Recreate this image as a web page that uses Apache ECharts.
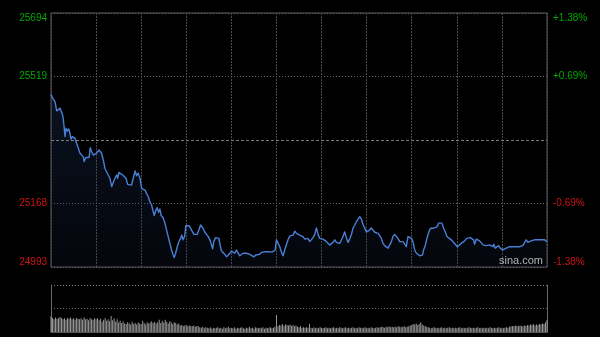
<!DOCTYPE html>
<html><head><meta charset="utf-8">
<script src="https://cdn.jsdelivr.net/npm/echarts@6/dist/echarts.min.js"></script>
<style>html,body{margin:0;padding:0;background:#000}#c{width:600px;height:337px}</style>
</head><body><div id="c"></div>
<script>
const prevClose = 25343.5;
const yMin = 24993, yMax = 25694;
const leftLabels = ['24993', '25168', '', '25519', '25694'];
const rightLabels = ['-1.38%', '-0.69%', '', '+0.69%', '+1.38%'];

// minutes since the open (0..330) and index level
const times = [
0,1.1,2.0,2.7,3.8,4.9,6.0,6.7,7.8,8.6,9.3,10.0,10.8,11.8,12.6,13.3,14.2,14.8,16.0,17.1,18.2,19.3,20.4,21.5,22.1,23.1,24.1,25.3,26.1,27.1,28.1,29.3,30.4,31.0,31.9,32.6,33.7,34.8,35.9,37.0,38.1,39.2,40.4,41.4,42.5,43.7,44.3,45.2,46.3,47.7,48.5,49.9,51.0,52.1,53.6,54.7,56.0,57.0,58.0,59.2,60.3,61.4,62.5,63.6,64.7,65.8,
66.9,68.0,68.7,69.6,70.7,71.6,72.5,73.3,74.6,75.8,76.9,78.0,79.1,80.2,81.3,82.0,82.9,84.0,85.1,86.2,87.1,87.9,88.9,89.7,90.6,91.9,92.9,93.9,95.1,96.2,97.2,98.4,99.5,100.4,101.2,102.4,103.5,104.6,105.7,106.8,107.5,108.3,109.5,110.5,111.7,112.3,113.2,114.1,115.7,116.8,117.9,119.0,120.1,121.2,122.3,123.4,124.5,125.6,126.8,127.8,129.0,130.1,131.1,132.3,
133.4,134.9,136.3,137.4,138.5,139.4,140.5,141.6,142.7,143.8,144.9,146.0,147.1,148.2,149.1,150.0,151.1,152.2,153.3,154.4,155.5,156.7,157.7,158.9,160.0,161.1,162.2,163.3,164.4,165.5,166.6,167.7,168.8,170.0,171.0,172.2,173.3,174.3,175.5,176.6,177.7,178.8,179.9,181.0,182.1,183.3,184.3,185.5,186.6,187.6,188.8,189.9,191.0,192.1,193.2,194.3,195.4,196.5,197.6,198.7,
199.9,200.9,202.1,203.2,204.3,205.4,206.5,207.6,208.7,209.8,210.9,212.0,213.1,214.2,215.4,216.5,217.6,218.7,219.8,220.9,222.0,223.1,224.2,225.3,226.5,227.5,228.7,229.8,230.8,232.0,233.1,234.2,235.3,236.4,237.5,238.6,239.8,240.8,242.0,243.1,244.2,245.3,246.4,247.1,247.9,249.1,250.1,251.3,252.4,253.5,254.6,255.7,256.8,257.9,259.0,260.1,261.2,262.4,263.4,264.6,
266.3,267.4,268.5,269.7,270.3,271.2,272.3,273.4,274.5,275.7,276.7,277.9,279.0,280.0,281.2,281.8,283.0,284.0,285.2,286.3,287.4,288.5,289.6,290.7,291.8,292.9,294.0,294.6,295.6,296.7,297.8,298.9,300.0,300.6,301.8,302.9,304.0,305.1,306.2,307.3,308.4,309.5,310.6,311.7,312.8,313.9,315.1,316.2,317.3,318.4,319.5,320.6,321.7,322.8,323.9,325.0,326.2,327.2,328.4,329.5,330.0
];
const prices = [
25470,25459,25460,25449,25424,25422,25431,25435,25412,25385,25353,25376,25368,25374,25362,25346,25353,25357,25348,25334,25321,25307,25302,25297,25284,25295,25291,25295,25322,25311,25302,25297,25307,25302,25316,25316,25307,25288,25265,25256,25252,25238,25215,25219,25238,25247,25238,25254,25252,25247,25252,25238,25221,25224,25219,25238,25258,25245,25252,25238,25210,25215,25205,25201,25187,25173,
25164,25146,25135,25148,25157,25144,25153,25135,25129,25114,25095,25077,25058,25040,25026,25019,25031,25049,25063,25072,25081,25068,25077,25107,25104,25107,25104,25092,25083,25079,25083,25095,25109,25114,25100,25089,25083,25077,25068,25054,25043,25063,25074,25074,25072,25058,25040,25034,25028,25021,25021,25031,25037,25034,25031,25040,25031,25024,25028,25031,25028,25031,25026,25028,
25028,25021,25026,25023,25028,25026,25034,25035,25035,25031,25035,25031,25034,25034,25040,25068,25063,25049,25034,25024,25040,25056,25068,25079,25083,25081,25092,25086,25086,25081,25086,25077,25070,25068,25072,25063,25068,25074,25083,25101,25083,25072,25072,25070,25068,25063,25058,25054,25049,25061,25068,25061,25056,25058,25063,25077,25090,25074,25061,25070,
25083,25100,25109,25118,25125,25132,25125,25111,25107,25090,25086,25095,25101,25095,25089,25086,25086,25086,25072,25058,25052,25054,25045,25043,25063,25077,25083,25083,25072,25063,25058,25063,25056,25049,25077,25077,25072,25063,25040,25031,25028,25024,25021,25026,25040,25054,25072,25089,25100,25098,25100,25095,25104,25114,25116,25114,25100,25089,25077,25072,
25068,25063,25058,25063,25049,25054,25056,25061,25063,25065,25072,25068,25074,25077,25068,25056,25070,25068,25065,25063,25054,25049,25052,25049,25054,25056,25049,25056,25045,25049,25052,25045,25045,25040,25043,25045,25046,25049,25049,25049,25052,25049,25049,25049,25049,25052,25056,25068,25061,25063,25065,25061,25068,25065,25068,25070,25068,25070,25068,25063,25063
];

// per-minute volume (relative units, panel top = 100)
const volumes = [
34,30,27,31,28,29,32,30,27,29,
26,30,28,31,27,29,26,30,28,27,
29,26,31,27,28,25,30,27,26,29,
27,30,25,28,22,26,30,24,27,23,
34,25,29,22,27,20,24,19,23,18,
17,21,18,16,22,17,19,16,20,18,
17,24,19,16,21,18,20,23,19,22,
18,21,26,19,24,20,26,22,18,23,
20,17,21,19,16,18,14,15,13,14,
15,12,14,13,12,14,11,13,12,10,
9,11,8,10,9,8,10,7,9,8,
9,10,8,9,7,10,8,9,11,8,
9,8,10,7,9,8,9,10,8,7,
9,8,11,8,9,7,10,9,8,9,
8,10,7,9,8,9,10,8,9,11,
36,12,15,14,17,13,16,15,14,16,
13,15,12,14,11,10,12,9,10,9,
10,9,17,9,8,10,8,9,8,10,
9,8,9,10,8,9,8,9,10,8,
9,8,10,9,8,9,10,8,9,8,
9,10,8,9,8,10,9,8,9,10,
8,9,8,10,9,8,9,10,9,10,
11,10,9,11,10,12,10,11,10,11,
10,12,11,10,11,12,10,11,12,14,
15,17,16,18,15,17,21,16,14,12,
11,10,9,8,9,10,8,9,8,9,
10,8,9,8,9,10,8,9,8,9,
8,9,10,8,9,8,9,8,10,9,
8,9,8,9,10,8,9,8,9,8,
9,8,10,9,8,9,8,9,10,8,
9,8,9,10,9,11,12,13,12,14,
13,12,14,13,12,14,13,15,14,16,
15,17,14,16,15,17,16,18,17,21,
26
];

const GREEN = '#00a800', RED = '#d01212';
const step = (yMax - yMin) / 4;
const pct = (yMax - prevClose) / prevClose * 100;

const lineData = times.map((t, i) => [t, prices[i]]);
const volData = volumes.map((v, i) => [i, v]);

function lblIndex(v, lo, st) { return Math.round((v - lo) / st); }

const chart = echarts.init(document.getElementById('c'), null, {renderer: 'canvas'});
chart.setOption({
  backgroundColor: '#000',
  animation: false,
  grid: [
    {left: 51, right: 53, top: 13, height: 254, show: true, borderColor: '#5c5c5c', borderWidth: 1, outerBoundsMode: 'none'},
    {left: 51, right: 53, top: 285, height: 47, outerBoundsMode: 'none'}
  ],
  xAxis: [
    {gridIndex: 0, type: 'value', min: 0, max: 330, interval: 30,
     axisLine: {show: false}, axisTick: {show: false}, axisLabel: {show: false},
     splitLine: {show: true, lineStyle: {color: '#4a4a4a', type: [2, 1], width: 1}}},
    {gridIndex: 1, type: 'value', min: 0, max: 330,
     axisLine: {show: true, onZero: false, lineStyle: {color: '#555'}}, axisTick: {show: false}, axisLabel: {show: false},
     splitLine: {show: false}}
  ],
  yAxis: [
    {gridIndex: 0, type: 'value', min: yMin, max: yMax, interval: step, position: 'left',
     axisLine: {show: false}, axisTick: {show: false},
     axisLabel: {show: true, showMinLabel: true, showMaxLabel: true, margin: 4,
       verticalAlignMinLabel: 'bottom', verticalAlignMaxLabel: 'top',
       formatter: function (v) {
         const k = lblIndex(v, yMin, step);
         const t = leftLabels[k] || '';
         if (!t) return '';
         return (k > 2 ? '{g|' : '{r|') + t + '}';
       },
       rich: {g: {color: GREEN, fontSize: 10, fontFamily: 'Arial'}, r: {color: RED, fontSize: 10, fontFamily: 'Arial'}}
     },
     splitLine: {show: true, lineStyle: {color: ['#666', '#666', 'rgba(0,0,0,0)', '#666', '#666'], type: [1, 2], width: 1}}},
    {gridIndex: 0, type: 'value', min: -pct, max: pct, interval: pct / 2, position: 'right',
     axisLine: {show: false, onZero: false}, axisTick: {show: false},
     axisLabel: {show: true, showMinLabel: true, showMaxLabel: true, margin: 6,
       verticalAlignMinLabel: 'bottom', verticalAlignMaxLabel: 'top',
       formatter: function (v) {
         const k = lblIndex(v, -pct, pct / 2);
         const t = rightLabels[k] || '';
         if (!t) return '';
         return (k > 2 ? '{g|' : '{r|') + t + '}';
       },
       rich: {g: {color: GREEN, fontSize: 10, fontFamily: 'Arial'}, r: {color: RED, fontSize: 10, fontFamily: 'Arial'}}
     },
     splitLine: {show: false}},
    {gridIndex: 1, type: 'value', min: 0, max: 100, interval: 50, position: 'left',
     axisLine: {show: true, onZero: false, lineStyle: {color: '#6a6a6a'}}, axisTick: {show: false}, axisLabel: {show: false},
     splitLine: {show: true, lineStyle: {color: ['rgba(0,0,0,0)', '#666', '#777'], type: [1, 2], width: 1}}},
    {gridIndex: 1, type: 'value', min: 0, max: 100, position: 'right',
     axisLine: {show: true, onZero: false, lineStyle: {color: '#6a6a6a'}}, axisTick: {show: false}, axisLabel: {show: false},
     splitLine: {show: false}}
  ],
  series: [
    {type: 'line', xAxisIndex: 0, yAxisIndex: 0, data: lineData, symbol: 'none', showSymbol: false,
     lineStyle: {color: '#4a7fd6', width: 1.4, join: 'round'},
     areaStyle: {origin: 'start', color: {type: 'linear', x: 0, y: 0, x2: 0, y2: 1,
       colorStops: [{offset: 0, color: 'rgba(40,72,130,0.36)'}, {offset: 1, color: 'rgba(25,40,75,0.22)'}]}},
     markLine: {silent: true, symbol: 'none', label: {show: false},
       lineStyle: {color: '#7a7a7a', type: [3, 2], width: 1},
       data: [{yAxis: prevClose}]},
     z: 3},
    {type: 'bar', xAxisIndex: 1, yAxisIndex: 2, data: volData, barWidth: 1,
     itemStyle: {color: '#999999'}}
  ],
  graphic: [
    {type: 'text', left: 499, top: 255,
     style: {text: 'sina.com', fill: '#b4b4b4', font: '11px Arial'}, z: 10}
  ]
});
</script>
</body></html>
